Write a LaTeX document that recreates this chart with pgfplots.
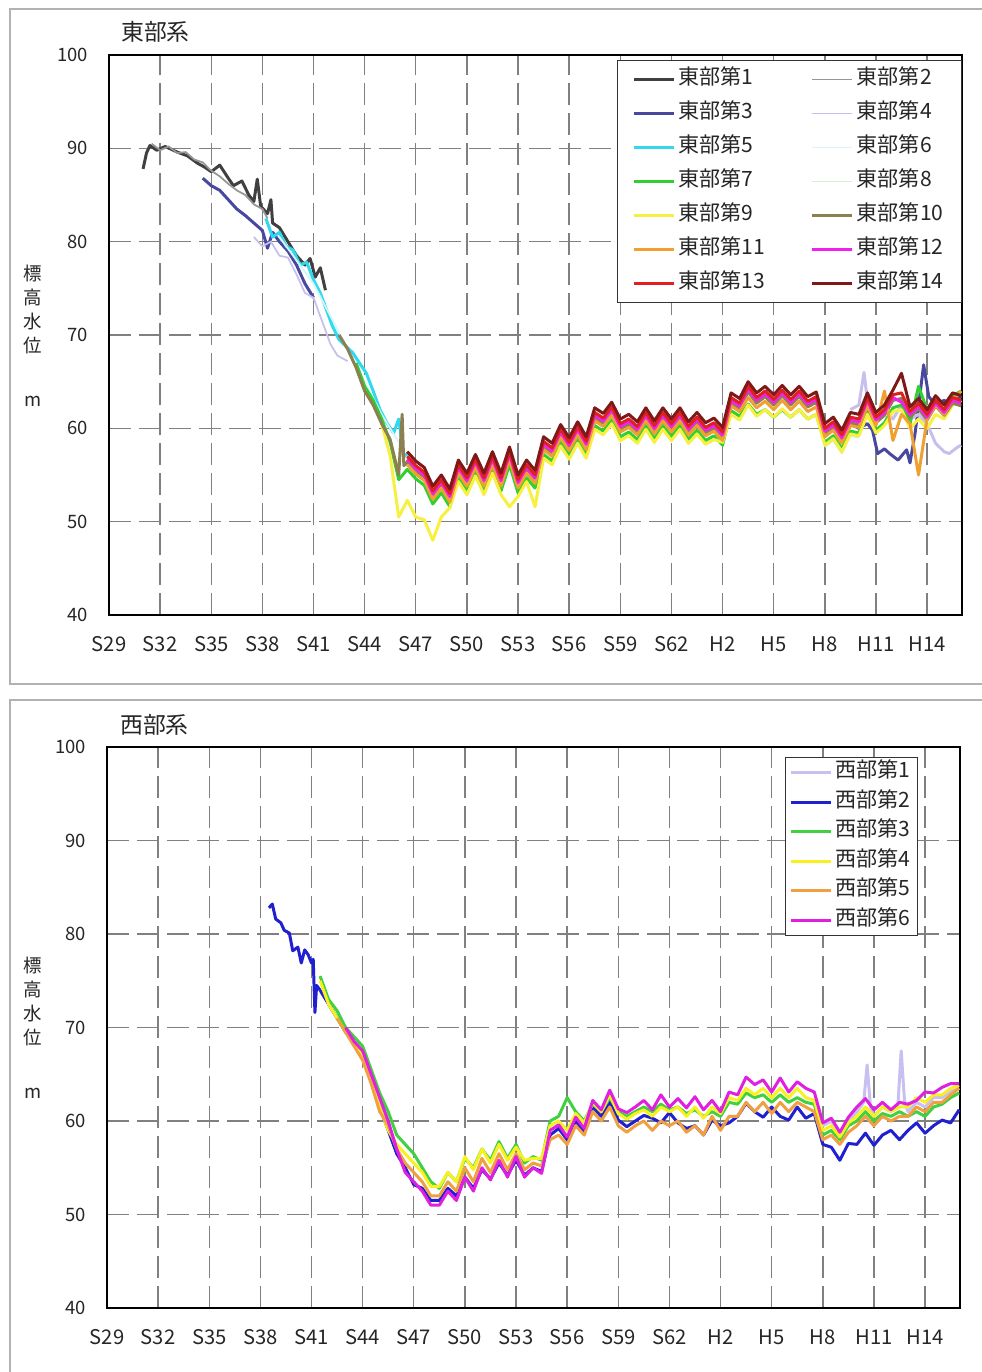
\documentclass[border=0pt]{standalone}
\usepackage{fontspec}
\setmainfont{Noto Sans CJK JP}
\usepackage{pgfplots}
\usepackage{pgfplotstable}
\pgfplotsset{compat=1.18}

\definecolor{e1}{HTML}{404040}
\definecolor{e2}{HTML}{969696}
\definecolor{e3}{HTML}{4848A0}
\definecolor{e4}{HTML}{C8C0EC}
\definecolor{e5}{HTML}{30D8F0}
\definecolor{e6}{HTML}{D4F6F6}
\definecolor{e7}{HTML}{30D030}
\definecolor{e8}{HTML}{D4F0CC}
\definecolor{e9}{HTML}{F8F040}
\definecolor{e10}{HTML}{8C8050}
\definecolor{e11}{HTML}{F0A030}
\definecolor{e12}{HTML}{F020F0}
\definecolor{e13}{HTML}{E02020}
\definecolor{e14}{HTML}{801818}
\definecolor{w1}{HTML}{C8C0F0}
\definecolor{w2}{HTML}{2020D0}
\definecolor{w3}{HTML}{40D040}
\definecolor{w4}{HTML}{F8F020}
\definecolor{w5}{HTML}{F0A040}
\definecolor{w6}{HTML}{E020E0}

\pgfplotstableread{
x E7 E9 E10 E11 E12 E13 E14
1967.5 nan nan 70.0 nan nan nan nan
1968.0 nan nan 68.5 nan nan nan nan
1968.5 67.0 nan 66.5 nan nan nan nan
1969.0 64.5 nan 64.0 nan nan nan nan
1969.5 63.0 nan 62.5 nan nan nan nan
1970.0 61.0 60.5 60.5 nan nan nan nan
1970.5 58.5 57.0 58.8 nan nan nan nan
1971.0 54.5 50.5 55.0 nan nan nan nan
1971.2 nan nan 61.5 nan nan nan nan
1971.3 nan nan 56.0 nan nan nan nan
1971.5 55.6 52.3 56.4 56.1 56.7 57.0 57.5
1972.0 54.6 50.5 55.4 55.1 55.7 56.0 56.5
1972.5 53.9 50.2 54.7 54.4 55.0 55.3 55.8
1973.0 51.9 48.0 52.7 52.4 53.0 53.3 53.8
1973.5 53.1 50.5 53.9 53.6 54.2 54.5 55.0
1974.0 51.6 51.5 52.4 52.1 52.7 53.0 53.5
1974.5 54.7 54.3 55.5 55.2 55.8 56.1 56.6
1975.0 53.3 52.9 54.1 53.8 54.4 54.7 55.2
1975.5 55.3 54.9 56.1 55.8 56.4 56.7 57.2
1976.0 53.3 52.9 54.1 53.8 54.4 54.7 55.2
1976.5 55.6 55.2 56.4 56.1 56.7 57.0 57.5
1977.0 53.3 52.9 54.1 53.8 54.4 54.7 55.2
1977.5 56.1 51.6 56.9 56.6 57.2 57.5 58.0
1978.0 53.1 52.7 53.9 53.6 54.2 54.5 55.0
1978.5 54.7 54.3 55.5 55.2 55.8 56.1 56.6
1979.0 53.6 51.6 54.4 54.1 54.7 55.0 55.5
1979.5 57.2 56.8 58.0 57.7 58.3 58.6 59.1
1980.0 56.5 56.1 57.3 57.0 57.6 57.9 58.4
1980.5 58.5 58.1 59.3 59.0 59.6 59.9 60.4
1981.0 57.1 56.7 57.9 57.6 58.2 58.5 59.0
1981.5 58.8 58.4 59.6 59.3 59.9 60.2 60.7
1982.0 57.2 56.8 58.0 57.7 58.3 58.6 59.1
1982.5 60.3 59.9 61.1 60.8 61.4 61.7 62.2
1983.0 59.7 59.3 60.5 60.2 60.8 61.1 61.6
1983.5 60.9 60.5 61.7 61.4 62.0 62.3 62.8
1984.0 59.1 58.7 59.9 59.6 60.2 60.5 61.0
1984.5 59.6 59.2 60.4 60.1 60.7 61.0 61.5
1985.0 58.8 58.4 59.6 59.3 59.9 60.2 60.7
1985.5 60.3 59.9 61.1 60.8 61.4 61.7 62.2
1986.0 58.9 58.5 59.7 59.4 60.0 60.3 60.8
1986.5 60.3 59.9 61.1 60.8 61.4 61.7 62.2
1987.0 59.1 58.7 59.9 59.6 60.2 60.5 61.0
1987.5 60.3 59.9 61.1 60.8 61.4 61.7 62.2
1988.0 58.8 58.4 59.6 59.3 59.9 60.2 60.7
1988.5 59.8 59.4 60.6 60.3 60.9 61.2 61.7
1989.0 58.7 58.3 59.5 59.2 59.8 60.1 60.6
1989.5 59.2 58.8 60.0 59.7 60.3 60.6 61.1
1990.0 58.2 58.5 59.0 58.7 59.3 59.6 60.1
1990.5 61.9 61.5 62.7 62.4 63.0 63.3 63.8
1991.0 61.3 60.9 62.1 61.8 62.4 62.7 63.2
1991.5 62.6 62.5 63.9 63.3 64.2 64.5 65.0
1992.0 61.5 61.3 62.7 62.2 63.0 63.3 63.8
1992.5 62.0 62.0 63.4 62.9 63.7 64.0 64.5
1993.0 61.2 61.2 62.5 62.0 62.8 63.1 63.6
1993.5 62.0 62.1 63.5 63.0 63.8 64.1 64.6
1994.0 61.2 61.2 62.5 62.0 62.8 63.1 63.6
1994.5 62.0 62.0 63.4 62.9 63.7 64.0 64.5
1995.0 61.0 61.0 62.3 61.8 62.6 62.9 63.4
1995.5 61.5 61.5 62.8 62.3 63.1 63.4 63.9
1996.0 58.5 58.2 59.4 59.1 59.7 60.0 60.5
1996.5 59.2 58.9 60.1 59.8 60.4 60.7 61.2
1997.0 57.8 57.5 58.7 58.4 59.0 59.3 59.8
1997.5 59.7 59.4 60.6 60.3 60.9 61.2 61.7
1998.0 59.5 59.2 60.4 60.1 60.7 61.0 61.5
1998.5 61.8 61.5 62.7 62.4 63.0 63.3 63.8
1999.0 59.8 59.5 60.6 60.3 60.9 61.2 61.7
1999.5 60.6 60.3 61.4 64.0 61.7 62.0 62.5
2000.0 62.2 61.8 63.0 58.7 63.3 63.6 64.1
2000.5 62.5 62.0 63.2 61.5 62.8 63.8 65.9
2001.0 60.5 60.0 61.2 60.5 61.5 61.8 62.3
2001.5 64.5 61.0 62.1 55.0 62.4 62.7 63.2
2002.0 62.0 60.0 60.9 61.0 61.2 61.5 62.0
2002.5 63.0 61.5 62.4 62.5 62.7 63.0 63.5
2003.0 62.0 61.0 61.4 61.5 61.7 62.0 62.5
2003.5 63.5 62.5 62.7 63.0 63.0 63.3 63.8
2004.0 64.0 63.0 62.4 64.0 62.7 63.0 63.5
}\easttab

\pgfplotstableread{
x W2 W3 W4 W5 W6
1966.5 74.0 75.5 75.0 nan nan
1967.0 72.5 73.0 72.5 nan nan
1967.5 71.0 71.8 71.0 71.0 nan
1968.0 69.5 70.0 69.5 69.5 70.0
1968.5 68.5 69.0 68.5 68.0 68.5
1969.0 67.0 68.0 67.0 66.5 67.5
1969.5 64.5 65.5 64.5 64.0 65.0
1970.0 61.5 63.0 61.5 61.0 62.5
1970.5 59.0 61.0 59.0 59.5 60.0
1971.0 56.5 58.5 57.5 57.0 57.0
1971.5 55.0 57.5 56.5 55.5 54.5
1972.0 53.2 56.5 55.5 54.5 53.5
1972.5 52.8 55.0 54.5 53.5 52.5
1973.0 51.5 53.5 53.0 52.0 51.0
1973.5 51.5 52.8 53.0 52.0 51.0
1974.0 52.8 54.5 54.5 53.5 52.5
1974.5 52.0 53.5 53.5 52.5 51.5
1975.0 54.0 56.0 56.2 55.0 54.0
1975.5 52.8 55.0 54.8 53.5 52.5
1976.0 54.8 57.0 57.0 56.0 55.0
1976.5 53.8 55.8 55.5 54.5 53.7
1977.0 55.5 57.8 57.5 56.5 55.8
1977.5 54.2 56.0 55.8 54.8 54.0
1978.0 55.8 57.5 57.2 56.5 56.2
1978.5 54.2 55.5 55.8 54.8 54.0
1979.0 55.0 56.2 56.0 55.5 55.0
1979.5 54.6 55.8 56.0 55.2 54.4
1980.0 58.5 60.0 59.5 58.0 59.0
1980.5 59.2 60.5 60.0 58.5 59.6
1981.0 58.0 62.5 59.0 57.5 58.3
1981.5 60.0 61.0 60.8 59.5 60.4
1982.0 58.8 60.0 59.8 58.5 59.2
1982.5 61.5 61.8 62.0 61.0 62.2
1983.0 60.5 61.0 61.0 60.0 61.2
1983.5 62.0 62.5 62.8 61.5 63.3
1984.0 60.1 61.0 60.8 59.5 61.3
1984.5 59.4 60.5 60.2 58.8 60.9
1985.0 60.0 61.0 60.8 59.5 61.5
1985.5 60.6 61.5 61.2 60.0 62.2
1986.0 60.3 61.0 60.5 59.0 61.2
1986.5 59.8 61.8 61.5 60.0 62.8
1987.0 60.9 61.2 61.0 59.5 61.5
1987.5 59.8 61.5 61.5 60.0 62.4
1988.0 59.2 60.8 60.5 58.8 61.4
1988.5 59.5 61.2 61.5 59.5 62.6
1989.0 58.5 60.5 60.3 58.5 61.2
1989.5 60.1 61.0 61.5 60.5 62.2
1990.0 59.5 60.5 60.8 59.0 61.0
1990.5 59.8 62.0 62.5 60.5 63.1
1991.0 60.5 61.8 62.2 60.5 62.8
1991.5 61.9 63.0 63.5 62.0 64.7
1992.0 61.0 62.5 62.8 61.0 63.9
1992.5 60.4 62.8 63.5 62.0 64.4
1993.0 61.5 62.0 62.5 60.8 63.1
1993.5 60.5 62.8 63.5 62.0 64.6
1994.0 60.1 62.0 62.5 61.0 63.1
1994.5 61.5 62.5 63.5 62.0 64.2
1995.0 60.3 62.0 62.5 61.5 63.5
1995.5 60.8 61.8 62.2 61.0 63.1
1996.0 57.5 58.5 59.0 58.0 59.8
1996.5 57.2 59.0 59.5 58.5 60.3
1997.0 55.8 58.0 58.3 57.5 58.8
1997.5 57.6 59.5 59.8 58.8 60.4
1998.0 57.5 60.0 60.5 59.5 61.5
1998.5 58.7 61.0 61.5 60.5 62.4
1999.0 57.4 60.0 60.5 59.5 61.2
1999.5 58.5 60.8 61.5 60.5 62.0
2000.0 59.0 60.5 61.0 60.0 61.2
2000.5 58.0 61.0 61.5 60.5 62.0
2001.0 59.0 60.5 61.5 60.5 61.8
2001.5 59.8 61.0 62.5 61.5 62.2
2002.0 58.7 60.5 62.0 61.0 63.1
2002.5 59.5 61.5 62.8 62.0 63.0
2003.0 60.1 61.8 62.8 62.0 63.6
2003.5 59.8 62.5 63.5 62.8 64.0
2004.0 61.2 63.0 63.8 63.5 64.0
}\westtab

\pgfplotsset{
  panel/.style={
    scale only axis, width=17.06cm, height=11.2cm,
    xmin=1954, xmax=2004.05, ymin=40, ymax=100,
    xtick={1954,1957,...,2002},
    xticklabels={S29,S32,S35,S38,S41,S44,S47,S50,S53,S56,S59,S62,H2,H5,H8,H11,H14},
    ytick={40,50,...,100},
    grid=major,
    major grid style={draw=black!50, line width=0.8pt, dash pattern=on 0.44cm off 0.16cm},
    major tick length=0pt,
    axis line style={line width=1.3pt, black},
    /pgf/number format/assume math mode=true,
    yticklabel style={font=\fontsize{10.5}{12}\selectfont, text=black!85, xshift=-0.3cm},
    xticklabel style={font=\fontsize{11.5}{13}\selectfont, text=black!85, yshift=-0.3cm},
    legend cell align=left,
    legend image code/.code={\draw[#1] (0cm,0cm) -- (0.8cm,0cm);},
    every axis plot/.append style={line join=round, mark=none},
    unbounded coords=discard,
  },
  thk/.style={line width=1.7pt},
  thn/.style={line width=1.0pt},
}

\begin{document}
\begin{tikzpicture}
\useasboundingbox (0,0) rectangle (19.62cm,-27.44cm);
\fill[white] (0,0) rectangle (19.62cm,-27.44cm);
\draw[black!30, line width=1pt] (0.2cm,-0.18cm) rectangle (19.9cm,-13.68cm);
\draw[black!30, line width=1pt] (0.2cm,-14.0cm) rectangle (19.9cm,-27.8cm);

\node[anchor=west, font=\fontsize{13}{15}\selectfont, text=black!85] at (2.3cm,-0.64cm) {東部系};
\node[anchor=west, font=\fontsize{13}{15}\selectfont, text=black!85] at (2.28cm,-14.5cm) {西部系};
\node[anchor=north, inner sep=0pt, align=center, font=\fontsize{10.5}{13.6}\selectfont, text=black!85] at (0.66cm,-5.3cm) {標\\高\\水\\位\\[0.6cm]m};
\node[anchor=north, inner sep=0pt, align=center, font=\fontsize{10.5}{13.6}\selectfont, text=black!85] at (0.66cm,-19.14cm) {標\\高\\水\\位\\[0.6cm]m};

% ---------------- top panel ----------------
\begin{axis}[panel, at={(2.18cm,-12.30cm)}, anchor=south west,
  legend columns=2,
  legend style={at={(rel axis cs:1,0.991)}, anchor=north east, draw=black!80, line width=0.6pt, fill=white,
    inner xsep=0.3cm, inner ysep=0.18cm, font=\fontsize{12}{14}\selectfont, text=black!85, row sep=0.28cm,
    nodes={inner xsep=0.06cm, inner ysep=0pt, text height=0.3cm, text depth=0.1cm},
    /tikz/every even column/.append style={column sep=0.85cm}},
]
\addplot[e1, thk] coordinates {
(1956.0,87.8)(1956.2,89.5)(1956.4,90.3)(1956.8,89.8)(1957.3,90.2)(1958.0,89.6)(1958.6,89.2)(1959.2,88.4)
(1959.6,88.0)(1960.0,87.5)(1960.5,88.2)(1961.0,86.8)(1961.3,86.0)(1961.8,86.5)(1962.2,85.0)(1962.5,84.3)
(1962.7,86.7)(1962.9,83.8)(1963.3,83.0)(1963.5,84.5)(1963.6,82.0)(1964.0,81.5)(1964.5,80.0)(1965.0,78.5)
(1965.5,77.5)(1965.8,78.2)(1966.1,76.2)(1966.4,77.2)(1966.7,74.8)};
\addplot[e2, thn] coordinates {
(1956.5,90.5)(1957.0,89.8)(1957.5,90.2)(1958.0,89.5)(1958.5,89.6)(1959.0,88.8)(1959.5,88.5)(1960.0,87.6)
(1960.5,87.0)(1961.0,86.2)(1961.5,85.5)(1962.0,85.0)(1962.5,84.0)(1963.0,83.5)(1963.3,82.5)};
\addplot[e3, thk] coordinates {
(1959.5,86.8)(1960.0,86.0)(1960.5,85.5)(1961.0,84.5)(1961.5,83.5)(1962.0,82.8)(1962.5,82.0)(1963.0,81.2)
(1963.3,79.3)(1963.6,81.0)(1964.0,80.0)(1964.5,79.0)(1965.0,77.5)(1965.5,75.5)(1966.0,74.0)};
\addplot[e3, thk, forget plot] coordinates {
(1997.5,60.5)(1998.0,60.0)(1998.5,60.5)(1998.8,59.8)(1999.1,57.3)(1999.5,57.8)(1999.8,57.3)(2000.3,56.6)
(2000.8,57.7)(2001.0,56.3)(2001.3,59.5)(2001.8,66.8)(2002.1,63.4)(2002.5,62.5)(2003.0,63.0)(2003.5,62.5)(2004.0,63.5)};
\addplot[e4, thn] coordinates {
(1962.5,80.5)(1963.0,79.5)(1963.5,80.0)(1964.0,78.5)(1964.5,78.3)(1965.0,76.5)(1965.5,74.5)(1966.0,74.0)
(1966.5,71.5)(1967.0,69.0)(1967.4,67.8)(1968.0,67.2)};
\addplot[e4, thk, forget plot] coordinates {
(1997.5,62.0)(1998.0,62.5)(1998.3,66.0)(1998.6,61.5)(1999.0,61.0)(1999.5,62.0)(2000.0,61.0)(2000.5,62.5)
(2001.0,61.0)(2001.5,61.5)(2002.0,60.5)(2002.5,58.4)(2003.0,57.5)(2003.3,57.3)(2003.8,58.0)(2004.0,58.2)};
\addplot[e5, thk] coordinates {
(1963.2,82.5)(1963.6,80.5)(1964.0,81.0)(1964.4,79.5)(1964.8,79.1)(1965.2,77.5)(1965.6,77.8)(1966.0,75.9)
(1966.4,74.5)(1966.8,72.5)(1967.1,71.0)(1967.5,69.5)(1967.9,68.8)(1968.3,68.1)(1968.7,67.0)(1969.1,65.9)
(1969.5,64.0)(1969.9,62.0)(1970.3,60.6)(1970.7,59.5)(1971.0,61.0)(1971.3,57.0)(1971.6,57.4)};
\addplot[e6, thn] coordinates {(1964.0,80.5)(1966.0,75.5)(1968.0,68.5)(1970.0,61.5)(1971.0,58.5)};
\addplot[e7, thk] table[x=x, y=E7] {\easttab};
\addplot[e8, thn] coordinates {(1996.0,58.0)(1996.5,58.7)(1997.0,57.3)(1997.5,59.2)(1998.0,59.0)};
\addplot[e9, thk] table[x=x, y=E9] {\easttab};
\addplot[e10, thk] table[x=x, y=E10] {\easttab};
\addplot[e11, thk] table[x=x, y=E11] {\easttab};
\addplot[e12, thk] table[x=x, y=E12] {\easttab};
\addplot[e13, thk] table[x=x, y=E13] {\easttab};
\addplot[e14, thk] table[x=x, y=E14] {\easttab};
\legend{東部第1,東部第2,東部第3,東部第4,東部第5,東部第6,東部第7,東部第8,東部第9,東部第10,東部第11,東部第12,東部第13,東部第14}
\end{axis}

% ---------------- bottom panel ----------------
\begin{axis}[panel, height=11.22cm, at={(2.14cm,-26.16cm)}, anchor=south west,
  legend columns=1,
  legend style={at={(rel axis cs:0.951,0.982)}, anchor=north east, draw=black!80, line width=0.6pt, fill=white,
    inner xsep=0.08cm, inner ysep=0.1cm, font=\fontsize{12}{14}\selectfont, text=black!85, row sep=0.19cm,
    nodes={inner xsep=0.06cm, inner ysep=0pt, text height=0.3cm, text depth=0.1cm}},
]
\addplot[w1, thk] coordinates {
(1996.0,59.5)(1996.5,60.0)(1997.0,58.5)(1997.5,60.0)(1998.0,61.0)(1998.4,62.0)(1998.6,66.0)(1998.8,61.5)
(1999.0,60.5)(1999.5,61.5)(2000.0,61.0)(2000.4,61.5)(2000.6,67.5)(2000.8,62.0)(2001.0,61.0)(2001.5,62.0)
(2002.0,61.5)(2002.5,62.5)(2003.0,62.5)(2003.5,63.2)(2004.0,63.5)};
\addplot[w2, thk] table[x=x, y=W2] {\westtab};
\addplot[w2, thk, forget plot] coordinates {
(1963.5,82.8)(1963.7,83.2)(1963.9,81.6)(1964.2,81.2)(1964.4,80.4)(1964.7,80.1)(1964.9,78.2)(1965.2,78.6)
(1965.4,76.9)(1965.6,78.3)(1965.8,77.8)(1966.0,76.9)(1966.1,77.3)(1966.2,71.6)(1966.3,74.5)(1966.5,74.0)};
\addplot[w3, thk] table[x=x, y=W3] {\westtab};
\addplot[w4, thk] table[x=x, y=W4] {\westtab};
\addplot[w5, thk] table[x=x, y=W5] {\westtab};
\addplot[w6, thk] table[x=x, y=W6] {\westtab};
\legend{西部第1,西部第2,西部第3,西部第4,西部第5,西部第6}
\end{axis}
\end{tikzpicture}
\end{document}
